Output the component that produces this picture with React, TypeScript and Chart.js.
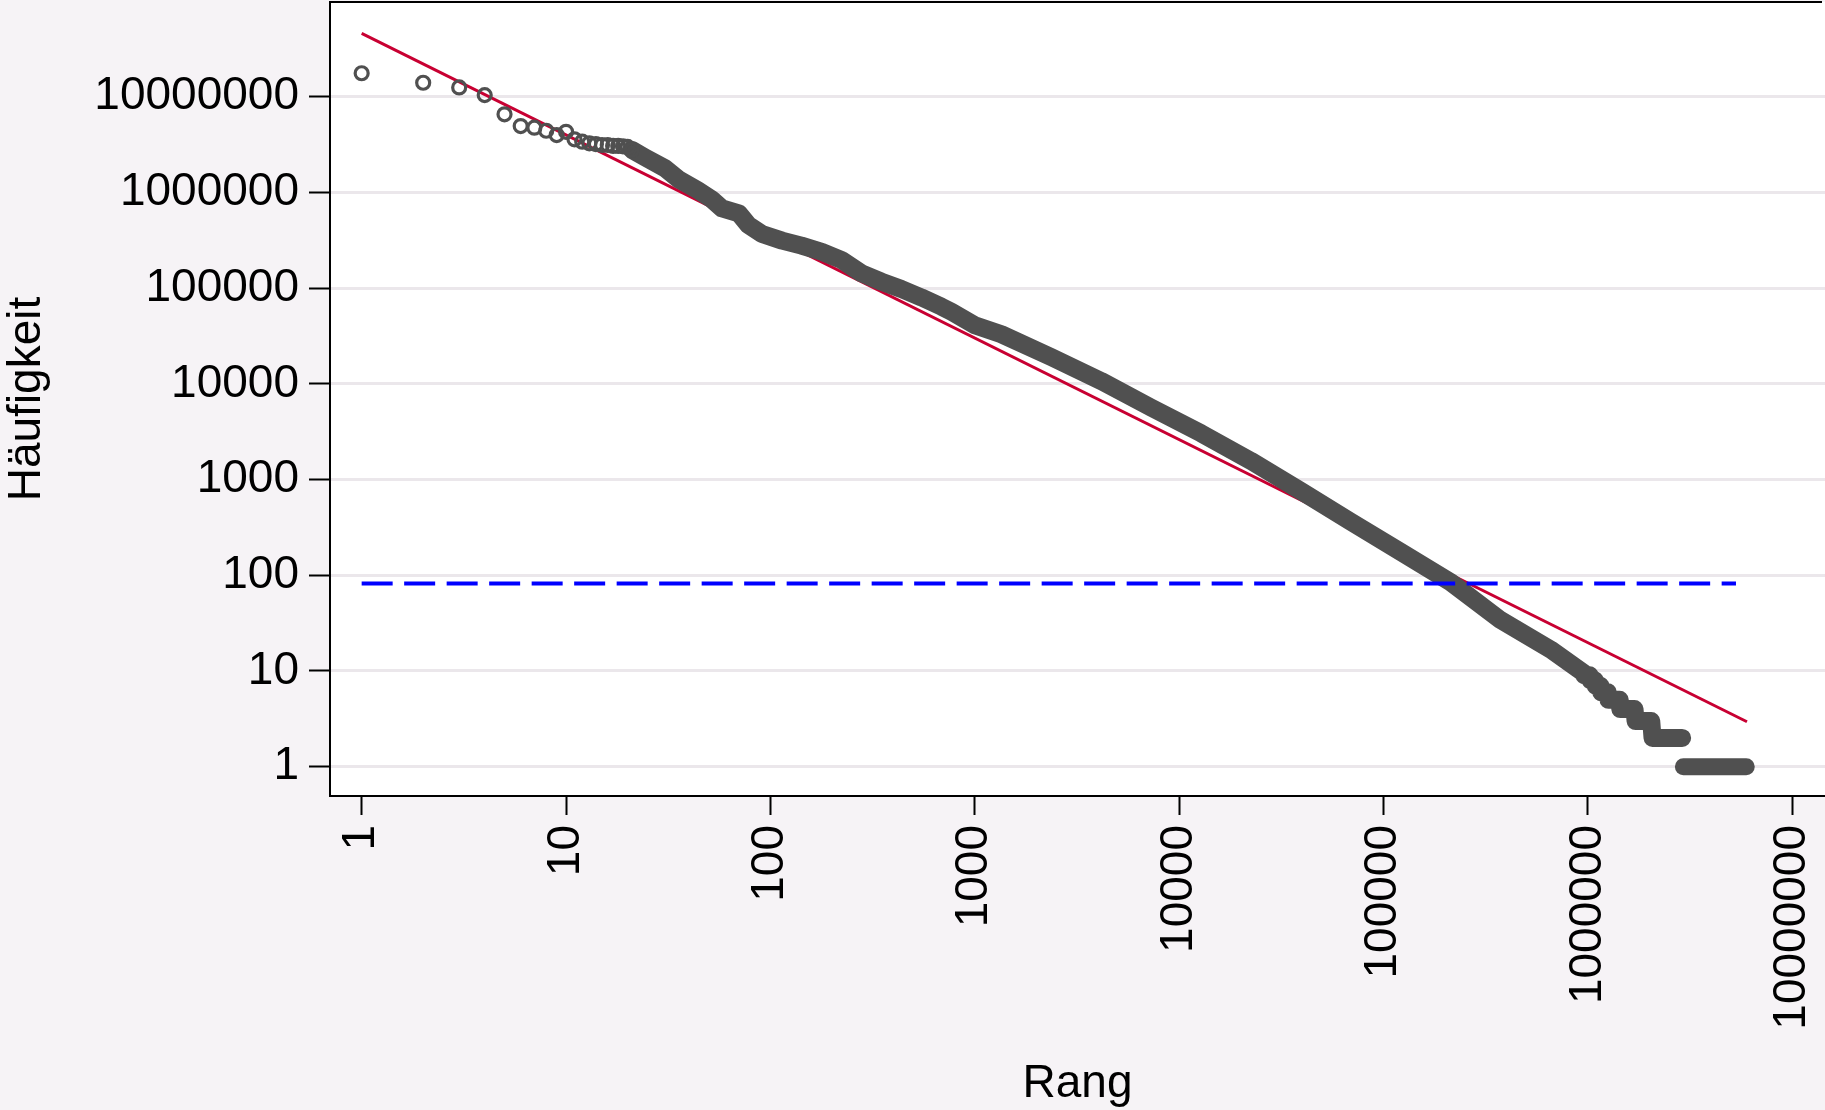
import { useEffect, useRef } from 'react';
import { Chart, registerables } from 'chart.js';

Chart.register(...registerables);

// Axis ticks (powers of ten)
const xTickValues = [1, 10, 100, 1000, 10000, 100000, 1000000, 10000000];
const yTickValues = [1, 10, 100, 1000, 10000, 100000, 1000000, 10000000];

// Individually visible points at the top ranks
const headRanks = [1, 2, 3, 4, 5, 6, 7, 8, 9, 10, 11, 12, 13, 14, 15, 16, 17, 18, 19, 20, 21];
const headFreqs = [
  17600000, 14000000, 12500000, 10400000, 6550000, 4940000, 4750000, 4410000, 3980000, 4300000,
  3590000, 3390000, 3260000, 3200000, 3130000, 3130000, 3060000, 3060000, 3030000, 2990000, 2780000,
];

// Dense part of the rank/frequency cloud (read along the band)
const bandRanks = [
  21, 24.4, 30.5, 35.4, 44, 51.6, 58, 70, 78, 91, 114, 142, 178, 223, 279, 349, 437, 548, 687, 769,
  1000, 1349, 2368, 4155, 7295, 12800, 22400, 39400, 69000, 121000, 213000, 374000, 656000, 955000,
  960000, 1020000, 1030000, 1080000, 1090000, 1150000, 1160000, 1250000, 1260000, 1430000,
  1440000, 1690000, 1710000, 2040000, 2070000, 2890000,
];
const bandFreqs = [
  2780000, 2320000, 1790000, 1380000, 1060000, 850000, 680000, 605000, 457000, 368000, 314000,
  278000, 240000, 197000, 143000, 117000, 98000, 80000, 64000, 56700, 41000, 33000, 19000, 10700,
  5650, 3040, 1570, 760, 363, 176, 84.5, 34, 16.8, 9.5, 9, 9, 8, 8, 7, 7, 6, 6, 5, 5, 4, 4, 3, 3, 2, 2,
];

// Words occurring once
const tailRanks = [2930000, 5950000];
const tailFreqs = [1, 1];

// Fitted power law (red) and threshold (blue dashed)
const fitRanks = [1, 6000000];
const fitFreqs = [46000000, 2.95];
const thresholdRanks = [1, 5300000];
const thresholdFreqs = [82, 82];

const FONT = '"Liberation Sans", Arial, Helvetica, sans-serif';
const BG = '#f6f3f6';
const GRID = '#ebe7eb';
const DOT = '#505050';

const toXY = (xs: number[], ys: number[]) => xs.map((x, i) => ({ x, y: ys[i] }));

const framePlugin = {
  id: 'frame',
  beforeDraw(chart: any) {
    const { ctx, chartArea: a, width, height } = chart;
    ctx.save();
    ctx.fillStyle = BG;
    ctx.fillRect(0, 0, width, height);
    ctx.fillStyle = '#ffffff';
    ctx.fillRect(a.left, a.top, a.right - a.left, a.bottom - a.top);
    ctx.restore();
  },
  afterDraw(chart: any) {
    const { ctx, chartArea: a } = chart;
    ctx.save();
    ctx.strokeStyle = '#000';
    ctx.lineWidth = 2;
    ctx.beginPath();
    ctx.moveTo(a.right - 3, a.top);
    ctx.lineTo(a.left, a.top);
    ctx.lineTo(a.left, a.bottom);
    ctx.lineTo(a.right, a.bottom);
    ctx.stroke();
    ctx.restore();
  },
};

const zeroPad = (s: any) => {
  s.paddingTop = 0;
  s.paddingBottom = 0;
  s.paddingLeft = 0;
  s.paddingRight = 0;
};

export default function App() {
  const ref = useRef<HTMLCanvasElement | null>(null);

  useEffect(() => {
    document.body.style.margin = '0';
    document.body.style.background = BG;
    const canvas = ref.current;
    if (!canvas) return;
    const font = { family: FONT, size: 46 };

    const chart = new Chart(canvas, {
      type: 'scatter',
      data: {
        datasets: [
          {
            label: 'threshold',
            data: toXY(thresholdRanks, thresholdFreqs),
            showLine: true,
            borderColor: '#0000ff',
            borderWidth: 4,
            borderDash: [31, 11.5],
            pointRadius: 0,
            fill: false,
          },
          {
            label: 'head',
            data: toXY(headRanks, headFreqs),
            showLine: false,
            pointStyle: 'circle',
            pointRadius: 6.5,
            pointBorderWidth: 3.2,
            borderWidth: 3.2,
            borderColor: DOT,
            backgroundColor: 'rgba(0,0,0,0)',
            pointBorderColor: DOT,
            pointBackgroundColor: 'rgba(0,0,0,0)',
          },
          {
            label: 'band',
            data: toXY(bandRanks, bandFreqs),
            showLine: true,
            borderColor: DOT,
            borderWidth: 18,
            borderCapStyle: 'round',
            borderJoinStyle: 'round',
            pointRadius: 0,
            fill: false,
          },
          {
            label: 'tail',
            data: toXY(tailRanks, tailFreqs),
            showLine: true,
            borderColor: DOT,
            borderWidth: 17,
            borderCapStyle: 'round',
            borderJoinStyle: 'round',
            pointRadius: 0,
            fill: false,
          },
          {
            label: 'fit',
            data: toXY(fitRanks, fitFreqs),
            showLine: true,
            borderColor: '#c80032',
            borderWidth: 3,
            pointRadius: 0,
            fill: false,
          },
        ],
      },
      options: {
        animation: false,
        responsive: false,
        maintainAspectRatio: false,
        layout: { autoPadding: false, padding: { top: 2, right: 0, left: 0, bottom: 0 } },
        plugins: {
          legend: { display: false },
          tooltip: { enabled: false },
        },
        scales: {
          x: {
            type: 'logarithmic',
            position: 'bottom',
            min: 0.719,
            max: 14450000,
            afterBuildTicks: (s: any) => {
              s.ticks = xTickValues.map((v) => ({ value: v }));
            },
            afterFit: (s: any) => {
              s.height = 314;
              zeroPad(s);
            },
            ticks: {
              autoSkip: false,
              minRotation: 90,
              maxRotation: 90,
              padding: 10,
              color: '#000',
              font,
              callback: (v: any) => String(v),
            },
            grid: {
              drawOnChartArea: false,
              drawTicks: true,
              tickLength: 19,
              tickColor: '#000',
              tickWidth: 2,
              color: 'rgba(0,0,0,0)',
            },
            border: { display: false },
            title: {
              display: true,
              text: 'Rang',
              color: '#000',
              font,
              padding: { top: 0, bottom: -2 },
            },
          },
          y: {
            type: 'logarithmic',
            position: 'left',
            min: 0.494,
            max: 97700000,
            afterBuildTicks: (s: any) => {
              s.ticks = yTickValues.map((v) => ({ value: v }));
            },
            afterFit: (s: any) => {
              s.width = 330;
              zeroPad(s);
            },
            ticks: {
              autoSkip: false,
              padding: 10,
              color: '#000',
              font,
              callback: (v: any) => String(v),
            },
            grid: {
              drawOnChartArea: true,
              drawTicks: true,
              tickLength: 21,
              tickColor: '#000',
              tickWidth: 2,
              color: GRID,
              lineWidth: 3,
            },
            border: { display: false },
            title: {
              display: true,
              text: 'Häufigkeit',
              color: '#000',
              font,
              padding: { top: 0, bottom: 0 },
            },
          },
        },
      },
      plugins: [framePlugin],
    } as any);

    return () => chart.destroy();
  }, []);

  return (
    <div style={{ width: 1825, height: 1110, overflow: 'hidden', background: BG }}>
      <canvas ref={ref} width={1825} height={1110} style={{ display: 'block' }} />
    </div>
  );
}
